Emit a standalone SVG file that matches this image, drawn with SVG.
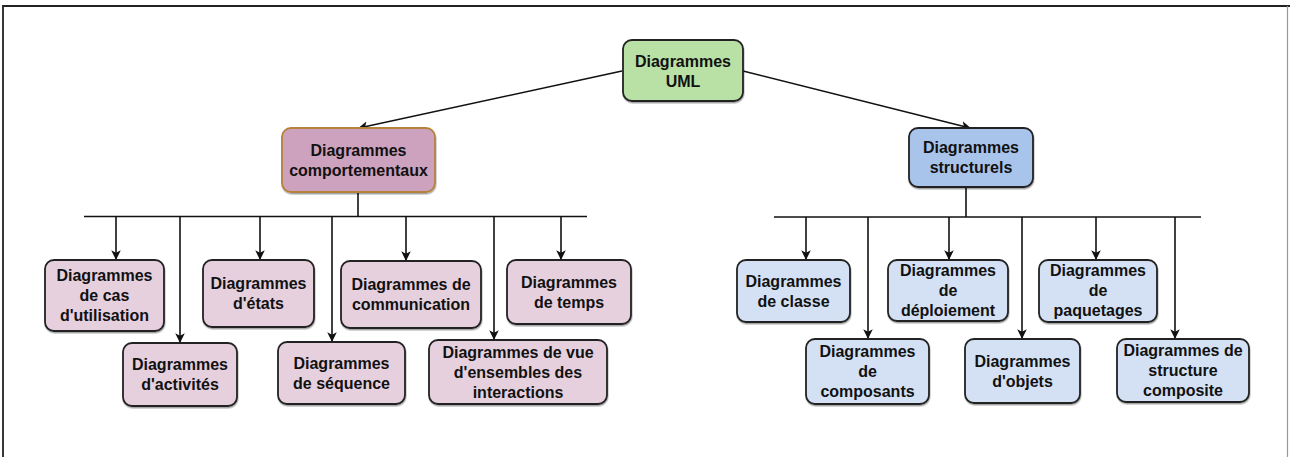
<svg xmlns="http://www.w3.org/2000/svg" width="1290" height="457" viewBox="0 0 1290 457">
  <defs>
    <style>
      .box { stroke: #222; stroke-width: 1.8; filter: url(#shadow); }
      .green { fill: #b9e0a5; }
      .behav { fill: #cda2be; stroke: #b5823c; }
      .struct { fill: #a9c4eb; }
      .pink { fill: #e6d0de; }
      .blue { fill: #d4e1f5; }
      .lbl { font-family: "Liberation Sans", Arial, sans-serif; font-size: 16px; font-weight: bold; fill: #111; text-anchor: middle; }
      .edge { stroke: #111; stroke-width: 1.6; fill: none; }
      .arrow { stroke: #111; stroke-width: 1.6; fill: none; marker-end: url(#head); }
    </style>
    <marker id="head" viewBox="0 0 10 10" refX="9" refY="5" markerWidth="6" markerHeight="6" markerUnits="strokeWidth" orient="auto">
      <path d="M0,0 L10,5 L0,10 L2.5,5 z" fill="#111"/>
    </marker>
    <filter id="shadow" x="-10%" y="-10%" width="120%" height="130%">
      <feDropShadow dx="0.5" dy="1.5" stdDeviation="0.6" flood-color="#000" flood-opacity="0.35"/>
    </filter>
  </defs>

  <rect width="1290" height="457" fill="#fff"/>
  <!-- frame -->
  <path d="M3,457 V6 H1290" fill="none" stroke="#222" stroke-width="1.8"/>
  <line x1="1287.5" y1="6" x2="1287.5" y2="457" stroke="#999" stroke-width="1.2"/>

  <!-- connectors -->
  <g id="connectors">
    <line class="arrow" x1="622" y1="71" x2="359" y2="128"/>
    <line class="arrow" x1="743" y1="71" x2="970" y2="128"/>

    <line class="edge" x1="358" y1="193" x2="358" y2="216.5"/>
    <line class="edge" x1="84" y1="216.5" x2="587" y2="216.5"/>
    <line class="arrow" x1="116" y1="216.5" x2="116" y2="259"/>
    <line class="arrow" x1="180" y1="216.5" x2="180" y2="342"/>
    <line class="arrow" x1="260" y1="216.5" x2="260" y2="259"/>
    <line class="arrow" x1="332" y1="216.5" x2="332" y2="341"/>
    <line class="arrow" x1="406" y1="216.5" x2="406" y2="260"/>
    <line class="arrow" x1="494" y1="216.5" x2="494" y2="339"/>
    <line class="arrow" x1="561" y1="216.5" x2="561" y2="259"/>

    <line class="edge" x1="966" y1="187" x2="966" y2="217"/>
    <line class="edge" x1="774" y1="217" x2="1201" y2="217"/>
    <line class="arrow" x1="806" y1="217" x2="806" y2="259"/>
    <line class="arrow" x1="868" y1="217" x2="868" y2="338"/>
    <line class="arrow" x1="949" y1="217" x2="949" y2="259"/>
    <line class="arrow" x1="1022" y1="217" x2="1022" y2="338"/>
    <line class="arrow" x1="1096" y1="217" x2="1096" y2="259"/>
    <line class="arrow" x1="1175" y1="217" x2="1175" y2="338"/>
  </g>

  <!-- root -->
  <g id="uml">
    <rect class="box green" x="623" y="40" width="120" height="61" rx="9"/>
    <text class="lbl" x="683" y="67">Diagrammes</text>
    <text class="lbl" x="683" y="87">UML</text>
  </g>

  <!-- second level -->
  <g id="comportementaux">
    <rect class="box behav" x="282" y="128" width="153" height="64" rx="9"/>
    <text class="lbl" x="358.5" y="156">Diagrammes</text>
    <text class="lbl" x="358.5" y="176">comportementaux</text>
  </g>
  <g id="structurels">
    <rect class="box struct" x="909" y="128" width="124" height="59" rx="9"/>
    <text class="lbl" x="971" y="153">Diagrammes</text>
    <text class="lbl" x="971" y="173">structurels</text>
  </g>

  <!-- behavioural diagrams -->
  <g id="cas-utilisation">
    <rect class="box pink" x="45" y="260" width="119" height="71" rx="9"/>
    <text class="lbl" x="104.5" y="281">Diagrammes</text>
    <text class="lbl" x="104.5" y="301">de cas</text>
    <text class="lbl" x="104.5" y="321">d'utilisation</text>
  </g>
  <g id="activites">
    <rect class="box pink" x="123" y="343" width="114" height="63" rx="9"/>
    <text class="lbl" x="180" y="370">Diagrammes</text>
    <text class="lbl" x="180" y="390">d'activités</text>
  </g>
  <g id="etats">
    <rect class="box pink" x="203" y="260" width="111" height="67" rx="9"/>
    <text class="lbl" x="258.5" y="289">Diagrammes</text>
    <text class="lbl" x="258.5" y="309">d'états</text>
  </g>
  <g id="sequence">
    <rect class="box pink" x="278" y="342" width="127" height="62" rx="9"/>
    <text class="lbl" x="341.5" y="368.5">Diagrammes</text>
    <text class="lbl" x="341.5" y="388.5">de séquence</text>
  </g>
  <g id="communication">
    <rect class="box pink" x="341" y="261" width="140" height="67" rx="9"/>
    <text class="lbl" x="411" y="290">Diagrammes de</text>
    <text class="lbl" x="411" y="310">communication</text>
  </g>
  <g id="vue-ensemble">
    <rect class="box pink" x="429" y="340" width="178" height="64" rx="9"/>
    <text class="lbl" x="518" y="358">Diagrammes de vue</text>
    <text class="lbl" x="518" y="378">d'ensembles des</text>
    <text class="lbl" x="518" y="398">interactions</text>
  </g>
  <g id="temps">
    <rect class="box pink" x="507" y="260" width="124" height="64" rx="9"/>
    <text class="lbl" x="569" y="288">Diagrammes</text>
    <text class="lbl" x="569" y="308">de temps</text>
  </g>

  <!-- structural diagrams -->
  <g id="classe">
    <rect class="box blue" x="737" y="260" width="113" height="62" rx="9"/>
    <text class="lbl" x="793.5" y="286.5">Diagrammes</text>
    <text class="lbl" x="793.5" y="306.5">de classe</text>
  </g>
  <g id="composants">
    <rect class="box blue" x="806" y="339" width="123" height="65" rx="9"/>
    <text class="lbl" x="867.5" y="357">Diagrammes</text>
    <text class="lbl" x="867.5" y="377">de</text>
    <text class="lbl" x="867.5" y="397">composants</text>
  </g>
  <g id="deploiement">
    <rect class="box blue" x="888" y="260" width="120" height="61" rx="9"/>
    <text class="lbl" x="948" y="276">Diagrammes</text>
    <text class="lbl" x="948" y="296">de</text>
    <text class="lbl" x="948" y="316">déploiement</text>
  </g>
  <g id="objets">
    <rect class="box blue" x="965" y="339" width="115" height="64" rx="9"/>
    <text class="lbl" x="1022.5" y="367">Diagrammes</text>
    <text class="lbl" x="1022.5" y="387">d'objets</text>
  </g>
  <g id="paquetages">
    <rect class="box blue" x="1039" y="260" width="118" height="62" rx="9"/>
    <text class="lbl" x="1098" y="276">Diagrammes</text>
    <text class="lbl" x="1098" y="296">de</text>
    <text class="lbl" x="1098" y="316">paquetages</text>
  </g>
  <g id="structure-composite">
    <rect class="box blue" x="1117" y="339" width="132" height="63" rx="9"/>
    <text class="lbl" x="1183" y="356">Diagrammes de</text>
    <text class="lbl" x="1183" y="376">structure</text>
    <text class="lbl" x="1183" y="396">composite</text>
  </g>
</svg>
